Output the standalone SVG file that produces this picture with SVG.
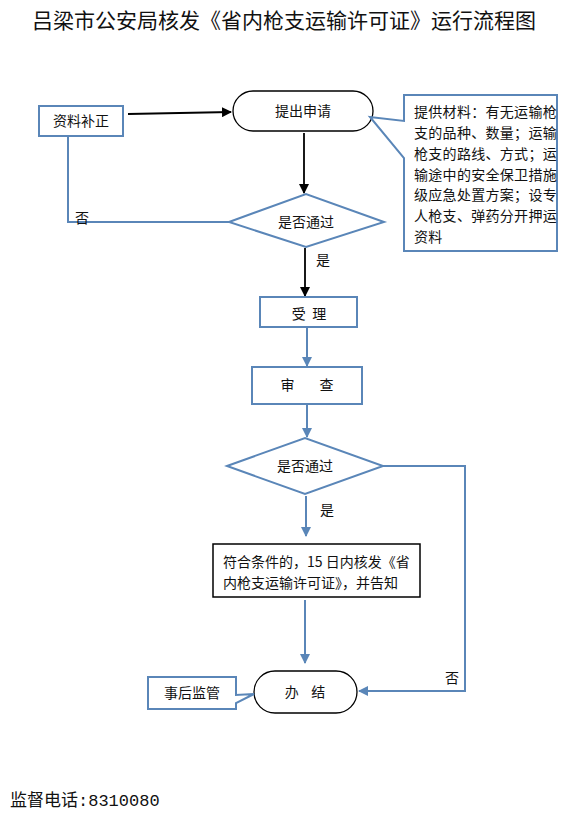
<svg xmlns="http://www.w3.org/2000/svg" width="575" height="820" viewBox="0 0 575 820">
<style>
text{font-family:"Noto Sans CJK SC",sans-serif;fill:#111}
.t{font-size:14px}
.blue{fill:#fff;stroke:#5a86b8;stroke-width:2}
.blk{fill:#fff;stroke:#000;stroke-width:1.3}
.lb{fill:none;stroke:#5a86b8;stroke-width:2}
.lk{fill:none;stroke:#000;stroke-width:1.8}
</style>
<defs>
<marker id="ak" markerWidth="10" markerHeight="10" refX="9" refY="5" orient="auto" markerUnits="userSpaceOnUse"><path d="M0,0 L10,5 L0,10 z" fill="#000"/></marker>
<marker id="ab" markerWidth="10" markerHeight="10" refX="9" refY="5" orient="auto" markerUnits="userSpaceOnUse"><path d="M0,0 L10,5 L0,10 z" fill="#5a86b8"/></marker>
</defs>
<rect width="575" height="820" fill="#fff"/>
<text x="284" y="28" font-size="21" text-anchor="middle">吕梁市公安局核发《省内枪支运输许可证》运行流程图</text>

<g id="connectors">
<line class="lk" x1="128" y1="114" x2="231" y2="112" marker-end="url(#ak)"/>
<line class="lk" x1="304" y1="133" x2="304" y2="193" marker-end="url(#ak)"/>
<polyline class="lb" points="229,222 68,222 68,137"/>
<line class="lk" x1="305" y1="248" x2="305" y2="296" marker-end="url(#ak)"/>
<line class="lb" x1="307" y1="327" x2="307" y2="366" marker-end="url(#ab)"/>
<line class="lb" x1="307" y1="404" x2="307" y2="437" marker-end="url(#ab)"/>
<line class="lb" x1="306" y1="496" x2="306" y2="536" marker-end="url(#ab)"/>
<line class="lb" x1="305" y1="600" x2="305" y2="663" marker-end="url(#ab)"/>
<polyline class="lb" points="383,466 465,466 465,691 359,691" marker-end="url(#ab)"/>
<text class="t" x="75" y="223">否</text>
<text class="t" x="316" y="265">是</text>
<text class="t" x="320" y="515">是</text>
<text class="t" x="445" y="683">否</text>
</g>

<g id="n_buzheng">
<rect class="blue" x="39" y="106" width="84" height="30"/>
<text class="t" x="81" y="126" text-anchor="middle">资料补正</text>
</g>

<g id="n_shenqing">
<rect class="blk" x="233" y="91" width="140" height="40" rx="20"/>
<text class="t" x="303" y="116" text-anchor="middle">提出申请</text>
</g>

<g id="n_callout1">
<polygon class="blue" points="404,95 557,95 557,251 404,251 404,158 370,117 404,121"/>
<g class="t" letter-spacing="0.3">
<text x="414" y="117">提供材料：有无运输枪</text>
<text x="414" y="138">支的品种、数量；运输</text>
<text x="414" y="159">枪支的路线、方式；运</text>
<text x="414" y="180">输途中的安全保卫措施</text>
<text x="414" y="200">级应急处置方案；设专</text>
<text x="414" y="221">人枪支、弹药分开押运</text>
<text x="414" y="242">资料</text>
</g>
</g>

<g id="n_judge1">
<polygon class="blue" points="229,222 306,194 384,222 306,247"/>
<text class="t" x="306" y="227" text-anchor="middle">是否通过</text>
</g>

<g id="n_shouli">
<rect class="blue" x="260" y="297" width="97" height="30"/>
<text class="t" x="309" y="319" text-anchor="middle" xml:space="preserve">受  理</text>
</g>

<g id="n_shencha">
<rect class="blue" x="252" y="367" width="110" height="37"/>
<text class="t" x="307" y="390" text-anchor="middle" xml:space="preserve">审        查</text>
</g>

<g id="n_judge2">
<polygon class="blue" points="227,466 305,438 383,466 305,494"/>
<text class="t" x="305" y="471" text-anchor="middle">是否通过</text>
</g>

<g id="n_hefa">
<rect x="213" y="544" width="207" height="53" fill="#fff" stroke="#000" stroke-width="1.5"/>
<text class="t" x="223" y="567">符合条件的，15 日内核发《省</text>
<text class="t" x="223" y="588">内枪支运输许可证》，并告知</text>
</g>

<g id="n_banjie">
<rect class="blk" x="254" y="671" width="103" height="42" rx="21"/>
<text class="t" x="305" y="697" text-anchor="middle" xml:space="preserve">办    结</text>
</g>

<g id="n_jianguan">
<polygon class="blue" points="148,677 236,677 236,695 254,694 236,703 236,709 148,709"/>
<text class="t" x="192" y="698" text-anchor="middle">事后监管</text>
</g>

<text x="10" y="806" font-size="17" style="font-family:'Liberation Mono','Noto Sans CJK SC',monospace">监督电话:8310080</text>
</svg>
